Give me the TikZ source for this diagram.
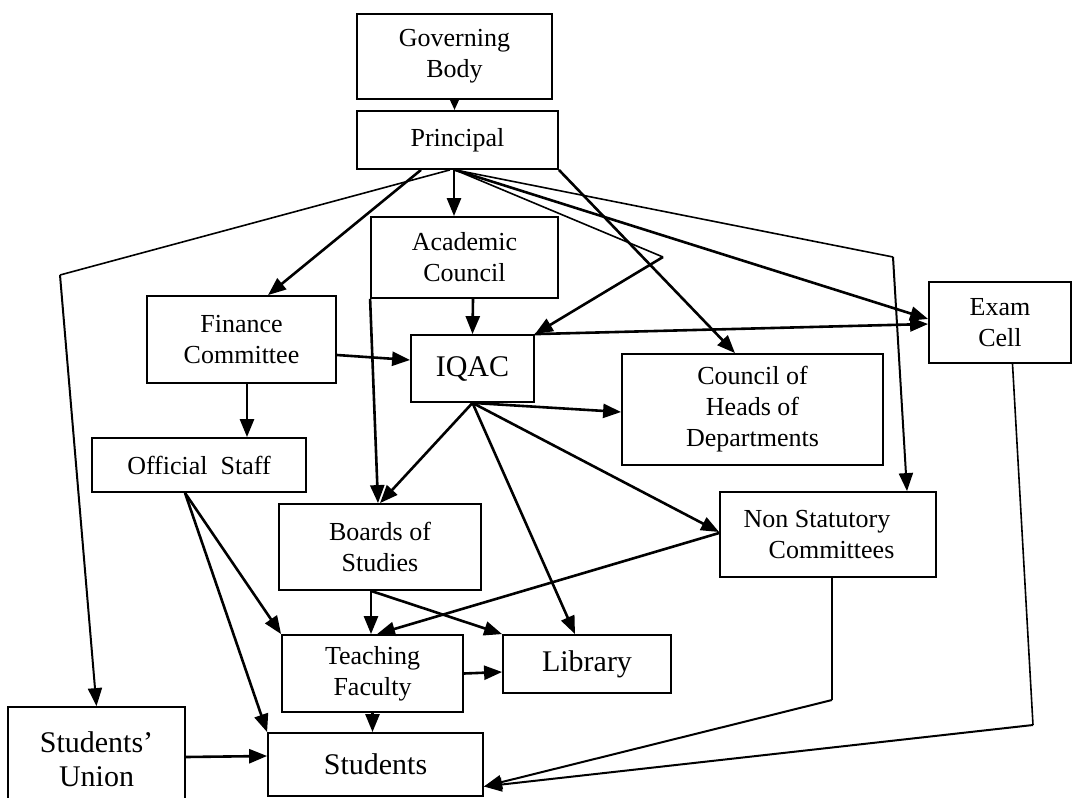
\documentclass[tikz,border=0pt]{standalone}
\usepackage{fontspec}
\setmainfont{Liberation Serif}
\usetikzlibrary{arrows.meta}

\begin{document}
\begin{tikzpicture}[x=1pt, y=-1pt,
  every node/.style={align=center, inner sep=0pt, font=\fontsize{26}{31}\selectfont},
  unit/.style={draw, line width=1.8pt},
  big/.style={font=\fontsize{30}{34}\selectfont},
  link/.style={line width=2.6pt, -{Triangle[length=18pt, width=14pt]}},
  wire/.style={line width=1.6pt}]
\clip (0,0) rectangle (1074,798);

% Top levels
\node[unit, minimum width=195pt, minimum height=85pt] (gov) at (454.5,56.5) {Governing\\Body};
\node[unit, minimum width=201pt, minimum height=58pt] (prin) at (457.5,140) {Principal};

% Councils and committees
\node[unit, minimum width=187pt, minimum height=81pt] (acad) at (464.5,257.5) {Academic\\Council};
\node[unit, minimum width=189pt, minimum height=87pt] (fin) at (241.5,339.5) {Finance\\Committee};
\node[unit, big, minimum width=123pt, minimum height=67pt] (iqac) at (472.5,368.5) {IQAC};
\node[unit, minimum width=142pt, minimum height=81pt] (exam) at (1000,322.5) {Exam\\Cell};
\node[unit, minimum width=261pt, minimum height=111pt] (hod) at (752.5,409.5) {Council of\\Heads of\\Departments};
\node[unit, minimum width=214pt, minimum height=54pt] (staff) at (199,465) {Official~~Staff};
\node[unit, minimum width=202pt, minimum height=86pt] (bos) at (380,547) {Boards of\\Studies};
\node[unit, align=left, minimum width=216pt, minimum height=85pt] (nsc) at (828,534.5) {Non Statutory\hspace*{22pt}\\\hspace*{25pt}Committees};

% Bottom levels
\node[unit, minimum width=181pt, minimum height=77pt] (teach) at (372.5,673.5) {Teaching\\Faculty};
\node[unit, big, minimum width=168pt, minimum height=58pt] (lib) at (587,664) {Library};
\node[unit, big, minimum width=177pt, minimum height=105pt] (union) at (96.5,759.5) {Students’\\Union};
\node[unit, big, minimum width=215pt, minimum height=63pt] (stud) at (375.5,764.5) {Students};

% Bend points
\coordinate (suBend) at (60,275);
\coordinate (qaBend) at (663,257);
\coordinate (nsBend) at (893,257);
\coordinate (ncBend) at (832,700);
\coordinate (exBend) at (1033,725);

% From the governing body and the principal
\draw[link, -{Triangle[length=12pt, width=10pt]}] (gov.south) -- (gov.south |- prin.north);
\draw[link] ([xshift=-36.5pt]prin.south) -- ([xshift=26.5pt]fin.north);
\draw[link] ([xshift=-3.5pt]prin.south) -- ([xshift=-10.5pt]acad.north);
\draw[wire] ([xshift=-7.5pt]prin.south) -- (suBend);
\draw[link, line width=2pt] (suBend) -- (union.north);
\draw[wire] ([xshift=-2.5pt]prin.south) -- (qaBend);
\draw[link] (qaBend) -- (iqac.north east);
\draw[link] ([xshift=-2.5pt]prin.south) -- ([yshift=3.5pt]exam.west);
\draw[wire] ([xshift=-2.5pt]prin.south) -- (nsBend);
\draw[link, line width=2pt] (nsBend) -- ([xshift=79pt]nsc.north);
\draw[link] (prin.south east) -- ([xshift=-17.5pt]hod.north);

% Councils
\draw[link] ([xshift=8.5pt]acad.south) -- (iqac.north);
\draw[link] (acad.south west) -- ([xshift=-2pt]bos.north);
\draw[link] ([yshift=-15.5pt]fin.east) -- ([yshift=8.5pt]iqac.west);
\draw[link] ([xshift=5.5pt]fin.south) -- ([xshift=48pt]staff.north);

% IQAC
\draw[link] (iqac.north east) -- ([yshift=-1.5pt]exam.west);
\draw[link] (iqac.south) -- ([yshift=-2.5pt]hod.west);
\draw[link] (iqac.south) -- (bos.north);
\draw[link] (iqac.south) -- ([xshift=-12pt]lib.north);
\draw[link] (iqac.south) -- ([yshift=2.5pt]nsc.west);

% Staff, boards and committees
\draw[link] ([xshift=-14pt]staff.south) -- (teach.north west);
\draw[link] ([xshift=-14pt]staff.south) -- (stud.north west);
\draw[link] ([xshift=-9pt]bos.south) -- ([xshift=-1.5pt]teach.north);
\draw[link] ([xshift=-9pt]bos.south) -- (lib.north west);
\draw[link] ([yshift=1.5pt]nsc.west) -- ([xshift=4.5pt]teach.north);

% Down to the students
\draw[link] (teach.east) -- ([yshift=-8pt]lib.west);
\draw[link] (teach.south) -- (teach.south |- stud.north);
\draw[link] ([yshift=2.5pt]union.east) -- ([yshift=8.5pt]stud.west);
\draw[wire] ([xshift=4pt]nsc.south) -- (ncBend);
\draw[link, line width=2pt] (ncBend) -- ([yshift=-22pt]stud.east);
\draw[wire] ([xshift=12.5pt]exam.south) -- (exBend);
\draw[link, line width=2pt] (exBend) -- ([yshift=-22pt]stud.east);
\end{tikzpicture}
\end{document}
